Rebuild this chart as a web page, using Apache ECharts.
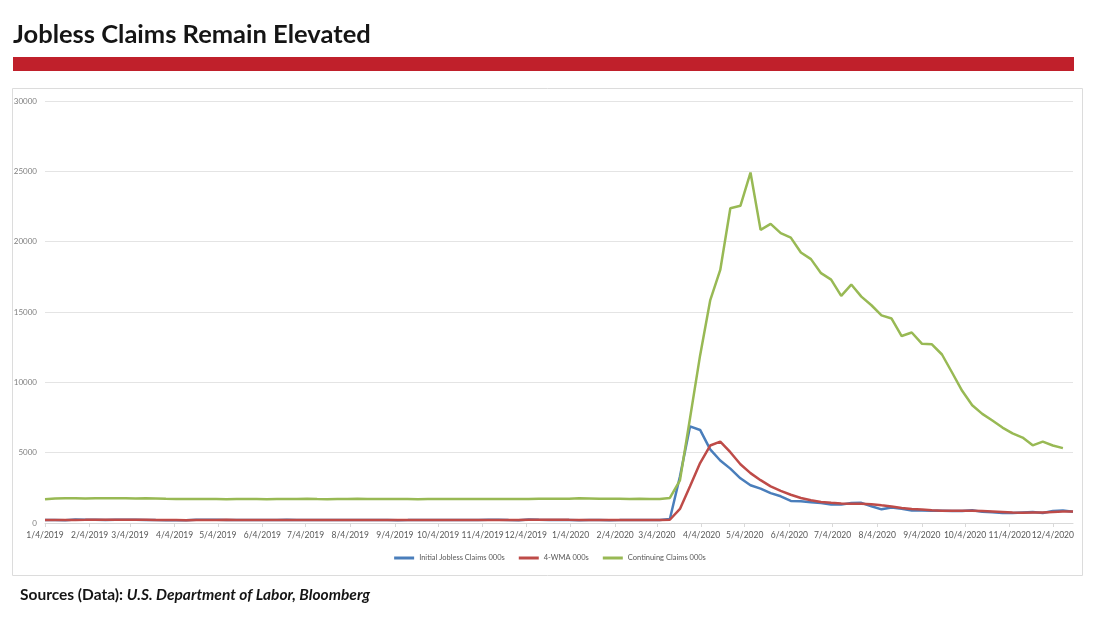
<!DOCTYPE html>
<html>
<head>
<meta charset="utf-8">
<title>Jobless Claims Remain Elevated</title>
<script src="https://cdn.jsdelivr.net/npm/echarts@6/dist/echarts.min.js"></script>
<style>
  html, body { margin: 0; padding: 0; background: #fff; }
  #chart { width: 1100px; height: 619px; }
</style>
</head>
<body>
<div id="chart"></div>
<script>
// weekly points, Fridays from 1/4/2019 to 12/18/2020 (103 weeks)
const firstWeek = [2019, 0, 4]
const weekCount = 103

// month tick labels on the date axis
const tickLabels = [
  '1/4/2019', '2/4/2019', '3/4/2019', '4/4/2019', '5/4/2019', '6/4/2019',
  '7/4/2019', '8/4/2019', '9/4/2019', '10/4/2019', '11/4/2019', '12/4/2019',
  '1/4/2020', '2/4/2020', '3/4/2020', '4/4/2020', '5/4/2020', '6/4/2020',
  '7/4/2020', '8/4/2020', '9/4/2020', '10/4/2020', '11/4/2020', '12/4/2020'
]

const seriesNames = ['Initial Jobless Claims 000s', '4-WMA 000s', 'Continuing Claims 000s']

// Initial Jobless Claims (000s)
const initialClaims = [
  216, 213, 199, 253, 234, 239, 216, 225, 223, 229, 221, 211, 202, 196, 192, 230,
  230, 228, 212, 211, 215, 218, 222, 216, 227, 221, 209, 216, 206, 215, 209, 220,
  209, 215, 217, 204, 208, 213, 219, 210, 214, 212, 218, 211, 225, 227, 213, 203,
  252, 234, 222, 222,
  214, 204, 211, 216, 202, 205, 210, 219, 216, 211,
  282, 3307, 6867, 6615, 5237, 4442, 3867, 3176, 2687, 2446, 2123, 1897, 1566, 1540,
  1482, 1413, 1310, 1307, 1422, 1435, 1191, 971, 1104, 1006, 881, 884, 866, 873,
  849, 845, 904, 791, 758, 709, 711, 748, 778, 712, 853, 885, 803
]

// 4-week moving average (000s)
const fourWeekAvg = [
  221, 220, 215, 220, 225, 231, 235, 228, 226, 223, 224, 221, 216, 208, 200, 205,
  212, 220, 225, 220, 214, 214, 216, 218, 221, 222, 218, 218, 213, 212, 212, 213,
  213, 213, 215, 211, 209, 211, 211, 212, 214, 214, 213, 214, 217, 220, 219, 217,
  224, 226, 228, 233,
  223, 216, 213, 211, 208, 209, 208, 209, 212, 214,
  232, 998, 2612, 4265, 5507, 5790, 5033, 4180, 3545, 3044, 2608, 2288, 2008, 1782,
  1621, 1500, 1438, 1378, 1363, 1369, 1341, 1255, 1175, 1068, 990, 966, 909, 876,
  870, 866, 866, 847, 824, 787, 742, 731, 748, 740, 776, 812, 818
]

// Continuing Claims (000s), last week not yet reported
const continuingClaims = [
  1690, 1745, 1760, 1755, 1750, 1760, 1752, 1758, 1756, 1750, 1754, 1748, 1717, 1700,
  1705, 1698, 1702, 1700, 1696, 1698, 1700, 1702, 1695, 1698, 1700, 1703, 1722, 1700,
  1696, 1699, 1700, 1726, 1705, 1700, 1698, 1700, 1698, 1696, 1700, 1700, 1699, 1702,
  1700, 1700, 1698, 1699, 1700, 1703, 1700, 1722, 1719, 1728,
  1728, 1768, 1747, 1723, 1718, 1726, 1708, 1724, 1701, 1701,
  1784, 3029, 7446, 11914, 15819, 17990, 22377, 22548, 24912, 20838, 21268, 20606,
  20289, 19231, 18760, 17760, 17304, 16151, 16951, 16090, 15480, 14759, 14535, 13292,
  13544, 12747, 12700, 11979, 10700, 9397, 8373, 7756, 7285, 6786, 6372, 6071, 5520,
  5781, 5508, 5322, null
]

const colors = ['#4a7ebb', '#be4b48', '#98b954']

function parseLabel (s) {
  const [m, d, y] = s.split('/').map(Number)
  return new Date(y, m - 1, d).getTime()
}

function formatDate (t) {
  const d = new Date(t)
  return `${d.getMonth() + 1}/${d.getDate()}/${d.getFullYear()}`
}

const weekDates = []
for (let i = 0; i < weekCount; i++) {
  weekDates.push(new Date(firstWeek[0], firstWeek[1], firstWeek[2] + 7 * i).getTime())
}

const tickValues = tickLabels.map(parseLabel)
const pairs = arr => weekDates.map((t, i) => [t, arr[i]])

const chart = echarts.init(document.getElementById('chart'))

const lineSeries = (name, data, color) => ({
  name,
  type: 'line',
  data: pairs(data),
  showSymbol: false,
  symbol: 'none',
  connectNulls: false,
  color,
  lineStyle: { width: 2.5, color }
})

chart.setOption({
  animation: false,
  backgroundColor: '#ffffff',
  title: [
    {
      text: 'Jobless Claims Remain Elevated',
      left: 8,
      top: 17,
      textStyle: {
        fontFamily: 'Lato',
        fontSize: 25.5,
        fontWeight: 'bold',
        color: '#151515'
      }
    },
    {
      text: '{b|Sources (Data): }{bi|U.S. Department of Labor, Bloomberg}',
      left: 15,
      top: 582,
      textStyle: {
        rich: {
          b: { fontFamily: 'Lato', fontSize: 15.5, fontWeight: 'bold', color: '#151515' },
          bi: { fontFamily: 'Lato', fontSize: 15.5, fontWeight: 'bold', fontStyle: 'italic', color: '#151515' }
        }
      }
    }
  ],
  graphic: [
    {
      type: 'rect',
      z: -10,
      shape: { x: 12.5, y: 88.5, width: 1070, height: 487 },
      style: { fill: 'none', stroke: '#dcdcdc', lineWidth: 1 }
    },
    {
      type: 'rect',
      shape: { x: 13, y: 57, width: 1061, height: 14 },
      style: { fill: '#c0202b' }
    }
  ],
  legend: {
    data: seriesNames,
    bottom: 52,
    left: 'center',
    icon: 'rect',
    itemWidth: 20,
    itemHeight: 3,
    itemGap: 14,
    textStyle: { fontFamily: 'Lato', fontSize: 7.5, color: '#595959' }
  },
  grid: {
    left: 45,
    right: 27,
    top: 101,
    bottom: 96,
    containLabel: false
  },
  xAxis: {
    type: 'value',
    min: weekDates[0],
    max: weekDates[weekDates.length - 1],
    axisLine: { show: true, onZero: false, lineStyle: { color: '#d9d9d9', width: 1 } },
    axisTick: {
      show: true,
      customValues: tickValues,
      length: 4,
      lineStyle: { color: '#d9d9d9' }
    },
    axisLabel: {
      customValues: tickValues,
      formatter: v => formatDate(v),
      fontFamily: 'Lato',
      fontSize: 8.5,
      color: '#595959',
      margin: 8,
      showMinLabel: true,
      showMaxLabel: true,
      hideOverlap: false
    },
    splitLine: { show: false }
  },
  yAxis: {
    type: 'value',
    min: 0,
    max: 30000,
    interval: 5000,
    axisLine: { show: false },
    axisTick: { show: false },
    axisLabel: {
      fontFamily: 'Lato',
      fontSize: 8,
      color: '#7f7f7f',
      margin: 8,
      formatter: v => String(v)
    },
    splitLine: { lineStyle: { color: '#e4e4e4', width: 1 } }
  },
  series: [
    lineSeries(seriesNames[0], initialClaims, colors[0]),
    lineSeries(seriesNames[1], fourWeekAvg, colors[1]),
    lineSeries(seriesNames[2], continuingClaims, colors[2])
  ]
})

window.addEventListener('resize', () => chart.resize())
</script>
</body>
</html>
